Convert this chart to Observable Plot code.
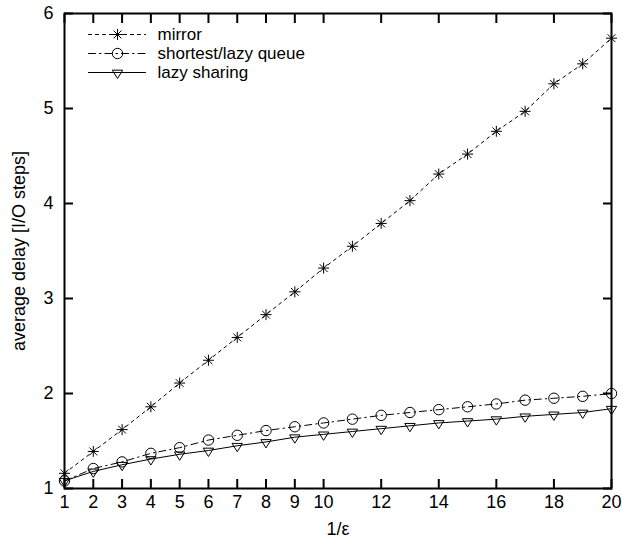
<!DOCTYPE html>
<html>
<head>
<meta charset="utf-8">
<script src="https://cdn.jsdelivr.net/npm/d3@7"></script>
<script src="https://cdn.jsdelivr.net/npm/@observablehq/plot@0.6"></script>
<style>
  html, body { margin: 0; padding: 0; background: #fff; }
  #chart { width: 623px; height: 547px; }
</style>
</head>
<body>
<div id="chart"></div>
<script>
// ---- data ----
const xs = [1,2,3,4,5,6,7,8,9,10,11,12,13,14,15,16,17,18,19,20];
const mirror = [1.16,1.39,1.62,1.86,2.11,2.35,2.59,2.83,3.07,3.32,3.55,3.79,4.03,4.31,4.52,4.76,4.97,5.26,5.47,5.74];
const shortestLazyQueue = [1.08,1.21,1.28,1.37,1.43,1.51,1.56,1.61,1.65,1.69,1.73,1.77,1.80,1.83,1.86,1.89,1.93,1.95,1.97,2.00];
const lazySharing = [1.08,1.18,1.25,1.31,1.36,1.40,1.45,1.49,1.54,1.57,1.60,1.63,1.66,1.69,1.71,1.73,1.76,1.78,1.80,1.84];
const seriesNames = ["mirror", "shortest/lazy queue", "lazy sharing"];
const xTicks = [1,2,3,4,5,6,7,8,9,10,12,14,16,18,20];
const yTicks = [1,2,3,4,5,6];
const xLabel = "1/\u03b5";
const yLabel = "average delay [I/O steps]";

const FS = 18;
const LEGEND_FS = 17;

// ---- custom symbols ----
const star8 = {
  draw(ctx, size) {
    const r = Math.sqrt(size / Math.PI);
    const d = r * Math.SQRT1_2;
    ctx.moveTo(-r, 0); ctx.lineTo(r, 0);
    ctx.moveTo(0, -r); ctx.lineTo(0, r);
    ctx.moveTo(-d, -d); ctx.lineTo(d, d);
    ctx.moveTo(-d, d); ctx.lineTo(d, -d);
  }
};
const triDown = {
  draw(ctx, size) {
    const r = Math.sqrt(size / Math.PI);
    ctx.moveTo(-r, -r * 0.45);
    ctx.lineTo(r, -r * 0.45);
    ctx.lineTo(0, r * 1.15);
    ctx.closePath();
  }
};

const styles = [
  {symbol: star8, dash: "3,4", r: 5.5},
  {symbol: "circle", dash: "7,4,1.5,4", r: 5.2},
  {symbol: triDown, dash: null, r: 5.2}
];
const values = [mirror, shortestLazyQueue, lazySharing];

const lineShape = {
  draw(ctx, l) { ctx.moveTo(0, 0); ctx.lineTo(0, -l); }
};

const marks = [];
values.forEach((vals, i) => {
  const data = xs.map((x, j) => ({x, y: vals[j]}));
  const st = styles[i];
  marks.push(Plot.line(data, {x: "x", y: "y", stroke: "black", strokeWidth: 1, strokeDasharray: st.dash}));
  marks.push(Plot.dot(data, {x: "x", y: "y", symbol: () => st.symbol, r: st.r, stroke: "black", strokeWidth: 1, fill: "none"}));
  // legend entry (positioned in the frame's top-left corner)
  const rowDy = 21 + i * 19;
  marks.push(Plot.vector([seriesNames[i]], {frameAnchor: "top-left", dx: 24, dy: rowDy, length: 57, rotate: 90, anchor: "start", shape: lineShape, stroke: "black", strokeWidth: 1, strokeDasharray: st.dash}));
  marks.push(Plot.dot([seriesNames[i]], {frameAnchor: "top-left", dx: 53, dy: rowDy, symbol: () => st.symbol, r: st.r, stroke: "black", strokeWidth: 1, fill: "none"}));
  marks.push(Plot.text([seriesNames[i]], {frameAnchor: "top-left", dx: 93, dy: rowDy, text: d => d, textAnchor: "start", lineAnchor: "middle", fill: "black", fontSize: LEGEND_FS}));
});

const chart = Plot.plot({
  width: 623,
  height: 547,
  marginLeft: 64,
  marginRight: 12,
  marginTop: 13,
  marginBottom: 59,
  style: {fontFamily: "'Liberation Sans', Arial, Helvetica, sans-serif", fontSize: FS + "px", background: "white", color: "black"},
  x: {domain: [1, 20]},
  y: {domain: [1, 6]},
  marks: [
    // inward tick marks on all four sides
    Plot.axisX(xTicks, {anchor: "bottom", tickSize: 9, dy: -9, fill: "none", label: null, strokeWidth: 2}),
    Plot.axisX(xTicks, {anchor: "top", tickSize: 9, dy: 9, fill: "none", label: null, strokeWidth: 2}),
    Plot.axisY(yTicks, {anchor: "left", tickSize: 9, dx: 9, fill: "none", label: null, strokeWidth: 2}),
    Plot.axisY(yTicks, {anchor: "right", tickSize: 9, dx: -9, fill: "none", label: null, strokeWidth: 2}),
    // tick labels and axis titles
    Plot.axisX(xTicks, {anchor: "bottom", tickSize: 0, tickPadding: 7, tickFormat: d => String(d), fontSize: FS, label: xLabel, labelAnchor: "center", labelOffset: 46, labelArrow: "none"}),
    Plot.axisY(yTicks, {anchor: "left", tickSize: 0, tickPadding: 11, tickFormat: d => String(d), fontSize: FS, label: yLabel, labelAnchor: "center", labelOffset: 52, labelArrow: "none"}),
    Plot.frame({stroke: "black", strokeWidth: 2}),
    ...marks
  ]
});
document.getElementById("chart").appendChild(chart);
</script>
</body>
</html>
